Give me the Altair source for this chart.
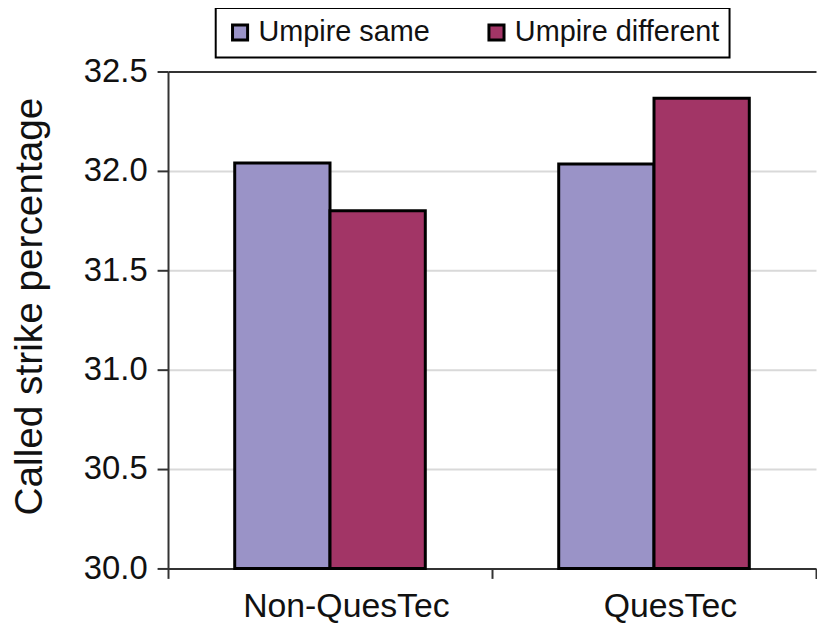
import altair as alt
import pandas as pd

categories = ["Non-QuesTec", "QuesTec"]
series = ["Umpire same", "Umpire different"]
umpire_same = [32.04, 32.035]
umpire_different = [31.80, 32.365]
y_ticks = [30.0, 30.5, 31.0, 31.5, 32.0, 32.5]
colors = ["#9A93C7", "#A23566"]

rows = []
for i, c in enumerate(categories):
    rows.append({"group": c, "umpire": series[0], "pct": umpire_same[i]})
    rows.append({"group": c, "umpire": series[1], "pct": umpire_different[i]})
df = pd.DataFrame(rows)

FONT = "Liberation Sans"

chart = alt.Chart(df).mark_bar(stroke="black", strokeWidth=3).encode(
    x=alt.X(
        "group:N",
        sort=categories,
        scale=alt.Scale(paddingInner=0, paddingOuter=0),
        axis=alt.Axis(
            title=None, labelAngle=0, tickBand="extent", ticks=True, tickSize=10,
            labelFontSize=34, labelPadding=11, labelLimit=0, labelOffset=16,
            domainColor="#333", tickColor="#333",
            domainWidth=2, tickWidth=2, grid=False, labelColor="#111",
        ),
    ),
    xOffset=alt.XOffset("umpire:N", sort=series, scale=alt.Scale(paddingInner=0, paddingOuter=0.7)),
    y=alt.Y(
        "pct:Q",
        scale=alt.Scale(domain=[y_ticks[0], y_ticks[-1]], zero=False, nice=False),
        axis=alt.Axis(
            values=y_ticks, format=".1f", title="Called strike percentage",
            titleFontSize=39, titleFontWeight="normal", titleColor="#111", titlePadding=34,
            titleY=236,
            labelFontSize=33, labelColor="#111", labelPadding=10,
            tickSize=11, tickWidth=2, tickColor="#333", domainColor="#333", domainWidth=2,
            gridWidth=2,
            gridColor={"condition": {"test": "datum.value >= 32.5", "value": "#333"}, "value": "#d9d9d9"},
        ),
    ),
    y2=alt.datum(y_ticks[0]),
    color=alt.Color(
        "umpire:N",
        sort=series,
        scale=alt.Scale(domain=series, range=colors),
        legend=alt.Legend(
            title=None, orient="none", legendX=48, legendY=-64, direction="horizontal",
            symbolType="square", symbolSize=230, symbolStrokeColor="black", symbolStrokeWidth=3,
            symbolOpacity=1, labelFontSize=29, labelColor="#111", labelOffset=4, labelLimit=0,
            fillColor="white", strokeColor="black", padding=10, columnPadding=52,
        ),
    ),
).properties(
    width=652, height=500, padding={"left": 2, "top": -3, "right": 0, "bottom": 0}
).configure_axis(
    labelFont=FONT, titleFont=FONT
).configure_legend(
    labelFont=FONT, strokeWidth=2
).configure_view(
    stroke="transparent"
)

chart.save("out.html", embed_options={"renderer": "svg", "actions": False})
